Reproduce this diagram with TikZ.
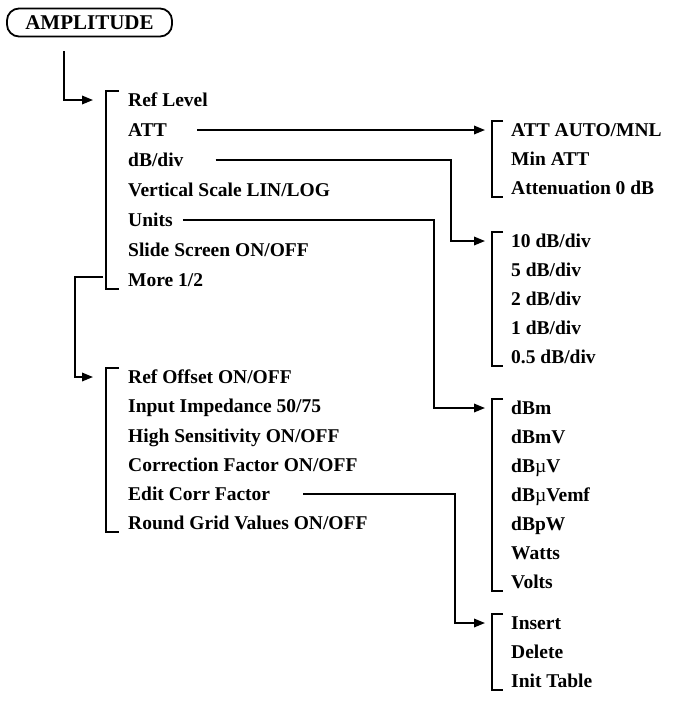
\documentclass[tikz,border=0pt]{standalone}
\usepackage{fontspec}
\setmainfont{Liberation Serif}
\usetikzlibrary{arrows.meta,calc}
\begin{document}
\begin{tikzpicture}[x=1pt,y=-1pt,
  item/.style={anchor=west,inner sep=0pt,text height=13pt,text depth=0pt,font=\fontsize{19.5}{21}\selectfont\bfseries},
  conn/.style={line width=1.8pt,-{Triangle[length=11pt,width=8.5pt]}},
  brk/.style={line width=1.8pt},
  keybox/.style={draw,line width=1.8pt,rounded corners=12pt,minimum width=165pt,minimum height=28pt,font=\fontsize{21}{23}\selectfont\bfseries,inner sep=0pt}]
\useasboundingbox (0,0) rectangle (675,718);

\node[keybox] (amp) at (89.5,22.5) {AMPLITUDE};

% column 1
\node[item] (r1) at (128,100) {Ref Level};
\node[item] (r2) at (128,130) {ATT};
\node[item] (r3) at (128,160) {dB/div};
\node[item] (r4) at (128,190) {Vertical Scale LIN/LOG};
\node[item] (r5) at (128,220) {Units};
\node[item] (r6) at (128,250) {Slide Screen ON/OFF};
\node[item] (r7) at (128,280) {More 1/2};

% column 2
\node[item] (s1) at (128,377) {Ref Offset ON/OFF};
\node[item] (s2) at (128,406) {Input Impedance 50/75};
\node[item] (s3) at (128,436) {High Sensitivity ON/OFF};
\node[item] (s4) at (128,465) {Correction Factor ON/OFF};
\node[item] (s5) at (128,494) {Edit Corr Factor};
\node[item] (s6) at (128,523) {Round Grid Values ON/OFF};

% right groups
\node[item] (a1) at (511,130) {ATT AUTO/MNL};
\node[item] (a2) at (511,159) {Min ATT};
\node[item] (a3) at (511,188) {Attenuation 0 dB};

\node[item] (b1) at (511,241) {10 dB/div};
\node[item] (b2) at (511,270) {5 dB/div};
\node[item] (b3) at (511,299) {2 dB/div};
\node[item] (b4) at (511,328) {1 dB/div};
\node[item] (b5) at (511,357) {0.5 dB/div};

\node[item] (c1) at (511,408) {dBm};
\node[item] (c2) at (511,437) {dBmV};
\node[item] (c3) at (511,466) {dB{\mdseries µ}V};
\node[item] (c4) at (511,495) {dB{\mdseries µ}Vemf};
\node[item] (c5) at (511,524) {dBpW};
\node[item] (c6) at (511,553) {Watts};
\node[item] (c7) at (511,582) {Volts};

\node[item] (d1) at (511,623) {Insert};
\node[item] (d2) at (511,652) {Delete};
\node[item] (d3) at (511,681) {Init Table};

% brackets
\draw[brk] ($(r1.west)+(-9,-9)$) -- ++(-13,0) |- ($(r7.west)+(-9,9)$);
\draw[brk] ($(s1.west)+(-9,-9)$) -- ++(-13,0) |- ($(s6.west)+(-9,9)$);
\draw[brk] ($(a1.west)+(-8,-9)$) -- ++(-11,0) |- ($(a3.west)+(-8,9)$);
\draw[brk] ($(b1.west)+(-8,-9)$) -- ++(-11,0) |- ($(b5.west)+(-8,9)$);
\draw[brk] ($(c1.west)+(-8,-9)$) -- ++(-11,0) |- ($(c7.west)+(-8,9)$);
\draw[brk] ($(d1.west)+(-8,-9)$) -- ++(-11,0) |- ($(d3.west)+(-8,9)$);

% connectors
\draw[conn] ($(amp.south)+(-25.5,14)$) |- ($(r1.west)+(-35,0)$);
\draw[conn] ($(r7.west)+(-25,-3)$) -- ++(-28,0) |- ($(s1.west)+(-35,0)$);
\draw[conn] ([xshift=30pt]r2.east) -- ($(a1.west)+(-26,0)$);
\draw[conn] ([xshift=32pt]r3.east) -| ($(b1.west)+(-60,0)$) -- ($(b1.west)+(-26,0)$);
\draw[conn] ([xshift=10pt]r5.east) -| ($(c1.west)+(-77,0)$) -- ($(c1.west)+(-26,0)$);
\draw[conn] ([xshift=33pt]s5.east) -| ($(d1.west)+(-56,0)$) -- ($(d1.west)+(-26,0)$);
\end{tikzpicture}
\end{document}
